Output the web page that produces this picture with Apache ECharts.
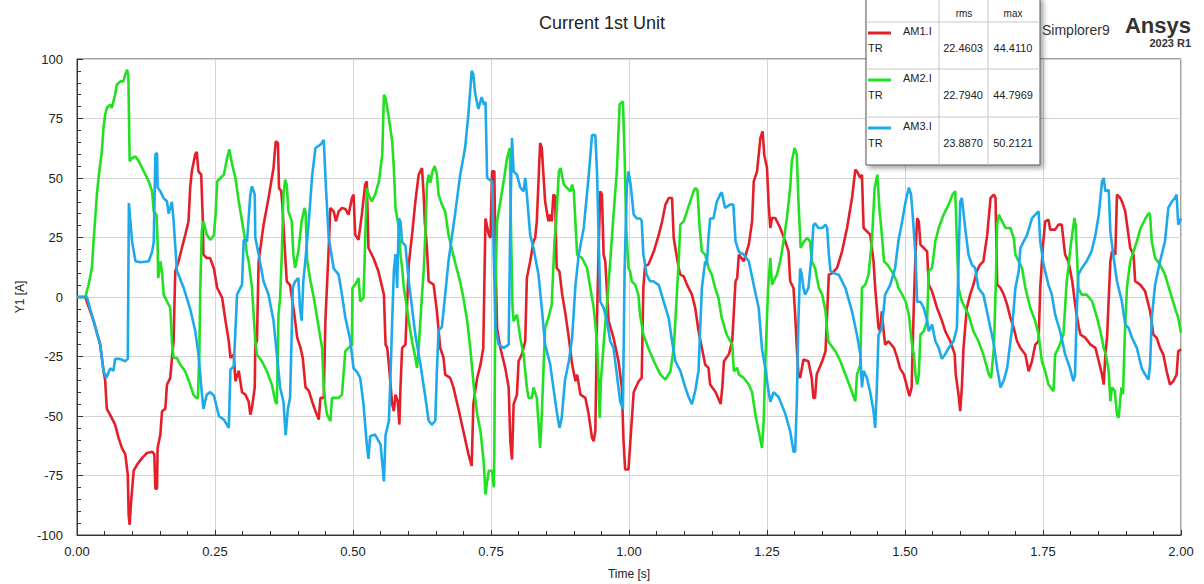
<!DOCTYPE html>
<html>
<head>
<meta charset="utf-8">
<title>Current 1st Unit</title>
<script src="https://cdn.jsdelivr.net/npm/echarts@6/dist/echarts.min.js"></script>
<style>
  html, body { margin: 0; padding: 0; background: #fff; }
  #main { width: 1204px; height: 584px; }
</style>
</head>
<body>
<div id="main"></div>
<script>
// AM1.I (red)
const tRed = [0,0.015,0.030,0.042,0.048,0.051,0.054,0.060,0.069,0.075,0.0815,0.0875,0.092,0.0936,0.0954,0.098,0.1027,0.1087,0.118,0.127,0.136,0.140,0.142,0.145,0.146,0.151,0.154,0.160,0.163,0.169,0.172,0.175,0.178,0.184,0.190,0.196,0.202,0.205,0.208,0.214,0.217,0.220,0.225,0.228,0.229,0.235,0.241,0.248,0.254,0.257,0.263,0.269,0.275,0.278,0.284,0.287,0.293,0.299,0.305,0.311,0.314,0.317,0.322,0.323,0.326,0.329,0.338,0.347,0.356,0.360,0.364,0.366,0.370,0.372,0.376,0.380,0.386,0.393,0.399,0.405,0.409,0.414,0.420,0.426,0.432,0.438,0.441,0.447,0.450,0.456,0.459,0.465,0.469,0.474,0.480,0.486,0.492,0.498,0.501,0.504,0.510,0.516,0.522,0.525,0.528,0.537,0.546,0.556,0.559,0.562,0.565,0.571,0.574,0.577,0.581,0.584,0.586,0.589,0.595,0.601,0.607,0.613,0.619,0.625,0.628,0.630,0.634,0.637,0.646,0.652,0.658,0.664,0.667,0.676,0.682,0.692,0.700,0.709,0.715,0.718,0.725,0.731,0.736,0.740,0.746,0.749,0.752,0.756,0.758,0.761,0.767,0.776,0.782,0.785,0.788,0.791,0.797,0.800,0.806,0.812,0.815,0.821,0.827,0.830,0.833,0.839,0.842,0.848,0.854,0.857,0.860,0.863,0.866,0.869,0.874,0.879,0.885,0.891,0.897,0.903,0.906,0.912,0.921,0.927,0.933,0.936,0.939,0.942,0.945,0.948,0.951,0.954,0.957,0.963,0.972,0.981,0.987,0.990,0.993,0.999,1.005,1.0085,1.0175,1.023,1.026,1.029,1.035,1.045,1.054,1.060,1.066,1.072,1.078,1.081,1.084,1.090,1.093,1.099,1.105,1.114,1.120,1.126,1.132,1.138,1.144,1.147,1.157,1.166,1.169,1.172,1.181,1.187,1.193,1.196,1.199,1.208,1.217,1.223,1.226,1.232,1.238,1.242,1.245,1.250,1.253,1.256,1.259,1.265,1.274,1.283,1.289,1.292,1.298,1.301,1.304,1.307,1.310,1.316,1.325,1.331,1.334,1.337,1.340,1.350,1.356,1.362,1.368,1.377,1.386,1.395,1.404,1.410,1.413,1.419,1.422,1.425,1.431,1.437,1.443,1.446,1.452,1.455,1.458,1.462,1.464,1.470,1.480,1.486,1.491,1.498,1.504,1.508,1.512,1.516,1.519,1.522,1.525,1.528,1.534,1.540,1.543,1.549,1.558,1.567,1.573,1.582,1.590,1.592,1.597,1.600,1.603,1.606,1.612,1.618,1.624,1.630,1.636,1.642,1.649,1.655,1.661,1.664,1.667,1.673,1.679,1.685,1.691,1.697,1.703,1.709,1.718,1.724,1.730,1.736,1.742,1.745,1.750,1.754,1.760,1.763,1.772,1.778,1.784,1.790,1.796,1.803,1.809,1.815,1.818,1.827,1.836,1.845,1.851,1.857,1.860,1.863,1.866,1.872,1.875,1.881,1.884,1.890,1.893,1.899,1.908,1.914,1.917,1.926,1.935,1.944,1.950,1.956,1.962,1.968,1.974,1.980,1.986,1.992,1.995,2.0];
const vRed = [0,0,-10,-20,-31,-35,-47,-49.5,-53.6,-59,-63.5,-66,-74.6,-91.5,-95.7,-86,-73,-70.5,-67.6,-65.5,-65,-66,-80.5,-80.5,-63.4,-57.8,-48,-47,-36.8,-34,-25.6,-18.6,10.8,15,20.6,26,31.8,45.8,52.8,59.8,61,52.8,51.4,31.8,17.8,16.4,16.4,12,3.8,2.4,-0.4,-10,-18.6,-25.6,-24.2,-35.4,-31,-40,-41,-44,-49.4,-46.5,-38,-20,-18.6,15,30.4,41.6,54.2,65.4,64.7,45.8,44.4,38.8,22,6.6,5,-6,-17.2,-21.4,-25.6,-38,-39.4,-44,-48,-51.5,-42.4,-42.4,-10,20.6,37.4,36,31.8,36,37.4,37,34.6,41.6,43,26.2,24,34.6,47.2,48.6,20.6,16.4,10.8,1,-20,-21.4,-28.4,-45,-48,-41,-43.8,-53.6,-38,-21.4,-20,13.6,26.2,40.2,51.4,54.2,43,31.8,20.6,6.6,5.2,-6,-21.4,-25.6,-32.6,-34,-38,-48,-56.4,-66,-71,-45,-34,-28.4,-21.4,33,26.2,24.8,52.8,52.8,17.8,-13,-21.4,-30,-38,-60.6,-68.3,-45,-41,-27,-24,-18.6,8,15,23.4,24.8,31.8,64.7,62.6,40.2,31.8,34.6,31.8,43,42.4,12.2,10.8,1,-7.4,-17.2,-28.4,-35.4,-32.6,-41,-42.4,-49.4,-59.2,-60.6,-56.4,-10,20.6,44.4,43,17.8,15,-10,-17.2,-27,-38,-60,-72.5,-72.5,-52,-40,-35.4,-34,3.8,13,13.6,19.2,26.2,31.8,38.8,41.6,41.6,24.8,20.6,12.2,9.4,8.7,5.2,1,-4.6,-14.4,-21.4,-28.4,-29.8,-36.8,-40,-45,-38,-27,-24,-18.6,6.6,8,17.8,15,22,31.8,48.6,52.8,66.8,69.6,59.8,54.2,38.8,29,33.2,33.2,29,23.4,19.2,6.6,3.8,-7.4,-21.4,-32.6,-34,-26.3,-27,-34,-42.4,-42.4,-32.6,-27,-22.8,9.4,10,12.2,19.2,29,41.6,53.5,52.8,50,51.4,29,27.6,26.2,15,3.8,-13,-14.4,-6,-15.8,-20,-18.6,-21.4,-25.6,-30,-32.6,-38,-41.7,-38,-3.2,17.8,33.2,31.8,22,20.6,19.2,5.2,2.4,-4.6,-10,-14.4,-18.6,-24,-32.6,-41,-48,-38,-21.4,-4.6,1,5.2,10.8,13.6,15,26.2,41.6,43,41.6,5.2,3.8,1,-3.2,-8.8,-13,-18.6,-21.4,-24.2,-31.2,-27,-20,-18.6,3.8,22,31.8,32.5,28.3,28.3,30.4,30.4,17.8,15,6.6,-4.6,-13,-15.8,-17.2,-20,-21.4,-27,-32.6,-36.8,-24.2,-17.2,15,19.2,17.8,43,41.6,40.2,36,20.6,17.8,6.6,5.2,2.4,-6,-15.8,-17.2,-21.4,-24.2,-31.2,-36.8,-35.4,-32.6,-22.8,-22];

// AM2.I (green)
const tGreen = [0,0.015,0.021,0.027,0.030,0.033,0.036,0.039,0.045,0.048,0.051,0.054,0.060,0.063,0.069,0.072,0.0785,0.084,0.0875,0.0906,0.093,0.0954,0.0996,0.106,0.112,0.118,0.124,0.130,0.136,0.139,0.144,0.146,0.147,0.150,0.151,0.154,0.157,0.163,0.169,0.172,0.175,0.181,0.187,0.196,0.205,0.211,0.216,0.219,0.2216,0.2234,0.226,0.229,0.235,0.242,0.248,0.251,0.254,0.260,0.266,0.272,0.276,0.281,0.287,0.293,0.299,0.305,0.308,0.311,0.317,0.320,0.323,0.326,0.335,0.344,0.353,0.359,0.362,0.365,0.368,0.371,0.374,0.377,0.380,0.383,0.389,0.392,0.395,0.401,0.407,0.412,0.414,0.417,0.423,0.429,0.435,0.441,0.444,0.447,0.450,0.453,0.459,0.462,0.468,0.474,0.480,0.486,0.492,0.498,0.499,0.504,0.510,0.513,0.519,0.522,0.525,0.528,0.534,0.540,0.547,0.553,0.556,0.559,0.565,0.571,0.574,0.577,0.583,0.586,0.589,0.592,0.595,0.601,0.607,0.613,0.616,0.619,0.625,0.628,0.631,0.634,0.637,0.640,0.644,0.648,0.652,0.655,0.661,0.667,0.673,0.680,0.686,0.694,0.700,0.707,0.713,0.719,0.725,0.731,0.737,0.740,0.743,0.746,0.752,0.755,0.756,0.758,0.761,0.767,0.773,0.779,0.784,0.786,0.789,0.791,0.797,0.803,0.809,0.815,0.818,0.824,0.827,0.833,0.839,0.842,0.848,0.854,0.860,0.865,0.868,0.873,0.876,0.882,0.888,0.894,0.897,0.900,0.906,0.915,0.924,0.930,0.936,0.942,0.945,0.947,0.949,0.954,0.960,0.966,0.972,0.978,0.983,0.989,0.992,0.995,0.999,1.002,1.005,1.011,1.017,1.020,1.026,1.035,1.045,1.057,1.066,1.075,1.081,1.084,1.090,1.093,1.099,1.105,1.111,1.117,1.120,1.124,1.128,1.132,1.138,1.144,1.150,1.156,1.162,1.168,1.177,1.187,1.190,1.196,1.199,1.208,1.217,1.223,1.229,1.235,1.241,1.244,1.247,1.252,1.256,1.259,1.262,1.268,1.274,1.280,1.286,1.292,1.295,1.300,1.304,1.307,1.311,1.317,1.323,1.328,1.331,1.337,1.344,1.350,1.356,1.361,1.365,1.374,1.383,1.392,1.401,1.410,1.413,1.419,1.422,1.428,1.434,1.440,1.445,1.450,1.454,1.457,1.462,1.468,1.476,1.485,1.488,1.495,1.501,1.507,1.512,1.516,1.519,1.522,1.525,1.528,1.534,1.540,1.543,1.549,1.555,1.561,1.570,1.579,1.586,1.591,1.594,1.597,1.603,1.609,1.615,1.624,1.633,1.642,1.652,1.656,1.661,1.664,1.667,1.670,1.676,1.682,1.691,1.697,1.700,1.706,1.712,1.718,1.727,1.736,1.742,1.748,1.754,1.760,1.769,1.772,1.778,1.787,1.793,1.796,1.799,1.802,1.807,1.809,1.811,1.814,1.820,1.829,1.839,1.848,1.854,1.860,1.864,1.869,1.872,1.875,1.880,1.884,1.887,1.892,1.895,1.898,1.902,1.908,1.914,1.920,1.927,1.936,1.942,1.944,1.947,1.953,1.962,1.971,1.980,1.989,1.995,2.0];
const vGreen = [0,0,5.2,12.2,23.4,33.2,43,50,61.2,71,76.6,79.4,80.8,79.4,85,89.2,90.6,90.6,93.4,95.5,93.4,57,58.4,59,57,54.2,51.4,48.6,44.4,36,34.6,23.4,8,12.2,15,10.8,1,-1.8,-4.6,-18.6,-25.6,-25.6,-28.4,-31.2,-36.8,-41,-42.4,-42.4,-24.2,3.8,27.6,31.8,26.2,24,26,34.6,48.6,50,51.4,58.4,62,55.6,50,40.2,31.8,23.4,17.8,15,3.8,-7.4,-18.6,-24.2,-27,-31.2,-36.8,-43.8,-45,-7.4,-0.4,17.8,43,49.3,47.2,36,31.8,17.8,12.2,19.2,31.8,37.4,36,15,6.6,-0.4,-8.8,-17.2,-21.4,-38,-45,-49.4,-52.2,-42.4,-42.4,-42.4,-41,-22.8,-21.4,-20,3.8,5.2,8,-1.8,-0.4,23.4,45.8,43,40.2,43,48.6,59.8,85,83.6,75.2,65.4,54.2,37.4,29,17.8,12.2,3.8,-0.4,-10.2,-18.6,-25.6,-29.8,-21.4,1,10.8,26.2,47.2,51.4,48,52.8,55,51.4,43,38.8,36,26.2,19.2,13.6,6.6,-0.4,-10.2,-22.8,-38,-49.4,-56.4,-70,-83,-77.5,-73,-73,-80,-66,3.8,31.8,40.2,48.6,58.4,62.6,31.8,-4.6,-10.2,-7.4,-17.2,-24.2,-38,-42.4,-42.4,-38,-42.4,-63.4,-49.4,-13,-8.8,-3.2,23.4,31.8,52.8,54.2,47.2,45.8,44.4,47.2,44.4,17.8,16.4,12.2,3.8,-4.6,-18.6,-38,-50.8,-35.4,-20,-3.2,15,34.6,52.8,81,82.2,59.8,29,12.2,10.8,6.6,5.2,1,-7.4,-15.8,-21.4,-27,-32.6,-34.7,-31.2,-21.4,-10.2,15,30.4,31.8,36,40.2,44.4,45.8,45,29,19.2,17.8,12.2,9.4,3.8,-0.4,-8.8,-15.8,-20,-31.2,-29.8,-32.6,-34,-36.8,-40,-49.4,-56.4,-63.4,-52,-27,3.8,16.4,5.2,6.6,9.4,15,23.4,33.2,45.8,57,62.6,59.8,40.2,20.6,23.4,24.8,23.4,15,12.2,3.8,1,-6,-18.6,-20,-22.8,-27,-32.6,-38,-43.8,-32.6,-28.4,3.8,5.2,9.4,23.4,45.8,51.4,36,29,15,13.6,10.8,6.6,3.8,1,-1.8,-7.4,-18.6,-24.2,-32.6,-36.8,-32.6,-15.8,-14.4,-10.2,10.8,12.2,23.4,29,34.6,38.8,43,44.4,23.4,3.8,-1.8,-4.6,-7.4,-14.4,-18.6,-24.2,-32.6,-34,-21.4,1,30.4,34.6,31.8,29,29,24.8,17.8,15,12.2,3.8,-4.6,-10.2,-15.8,-27,-31.2,-36.8,-39.6,-24.2,-21.4,-15.8,6.6,12.2,19.2,24.8,33.2,30.4,20.6,3.8,1,1,-1.8,-8.8,-14.4,-21.4,-24.2,-31.2,-43.8,-38,-39.4,-49.4,-50.8,-38,-40.8,-17.2,3.8,15,19.2,23.4,29,33.2,35.3,34.6,23.4,16.4,13.6,9.4,2.4,-4.6,-8.8,-15];

// AM3.I (blue)
const tBlue = [0,0.018,0.030,0.042,0.048,0.053,0.060,0.066,0.069,0.078,0.087,0.092,0.094,0.100,0.106,0.115,0.130,0.136,0.139,0.142,0.145,0.146,0.151,0.157,0.163,0.166,0.172,0.175,0.181,0.193,0.205,0.214,0.220,0.226,0.229,0.235,0.2415,0.248,0.257,0.266,0.275,0.278,0.284,0.290,0.299,0.302,0.308,0.314,0.317,0.322,0.323,0.329,0.338,0.347,0.356,0.362,0.368,0.374,0.378,0.382,0.386,0.391,0.395,0.401,0.404,0.407,0.410,0.414,0.420,0.426,0.432,0.441,0.447,0.451,0.456,0.465,0.474,0.480,0.486,0.495,0.501,0.507,0.513,0.519,0.525,0.528,0.531,0.540,0.550,0.556,0.559,0.565,0.568,0.571,0.574,0.577,0.580,0.583,0.586,0.589,0.595,0.601,0.607,0.613,0.622,0.631,0.637,0.643,0.649,0.652,0.655,0.661,0.667,0.673,0.679,0.685,0.694,0.703,0.709,0.715,0.718,0.721,0.727,0.733,0.737,0.740,0.743,0.752,0.758,0.764,0.773,0.782,0.785,0.788,0.791,0.797,0.803,0.809,0.812,0.815,0.821,0.827,0.836,0.842,0.848,0.857,0.863,0.869,0.874,0.878,0.884,0.891,0.897,0.903,0.909,0.918,0.927,0.933,0.939,0.942,0.945,0.948,0.954,0.960,0.966,0.972,0.978,0.984,0.989,0.992,0.996,0.999,1.003,1.0085,1.014,1.020,1.023,1.026,1.032,1.038,1.044,1.054,1.063,1.072,1.078,1.084,1.093,1.102,1.108,1.114,1.120,1.126,1.129,1.132,1.138,1.141,1.144,1.147,1.153,1.159,1.165,1.168,1.174,1.183,1.189,1.193,1.199,1.208,1.217,1.226,1.235,1.241,1.247,1.253,1.256,1.262,1.271,1.283,1.292,1.298,1.301,1.304,1.307,1.310,1.313,1.316,1.319,1.325,1.331,1.334,1.337,1.343,1.350,1.356,1.359,1.362,1.365,1.371,1.380,1.392,1.404,1.413,1.419,1.422,1.425,1.431,1.437,1.443,1.446,1.449,1.452,1.458,1.464,1.473,1.482,1.488,1.495,1.501,1.507,1.511,1.513,1.519,1.522,1.528,1.534,1.540,1.543,1.549,1.555,1.561,1.567,1.573,1.579,1.588,1.594,1.597,1.600,1.603,1.609,1.615,1.621,1.627,1.633,1.642,1.652,1.661,1.667,1.673,1.679,1.685,1.694,1.700,1.706,1.709,1.715,1.721,1.730,1.739,1.742,1.745,1.751,1.760,1.766,1.772,1.781,1.790,1.799,1.805,1.808,1.811,1.814,1.820,1.829,1.838,1.845,1.851,1.857,1.860,1.863,1.869,1.872,1.878,1.884,1.893,1.899,1.905,1.911,1.920,1.929,1.935,1.941,1.944,1.947,1.953,1.962,1.971,1.977,1.983,1.989,1.992,1.995,2.0];
const vBlue = [0,0,-10,-20,-31,-34,-30,-31,-26,-26,-27,-26,39.5,23,15,14.6,15,19,23,60,60.5,46,44.4,41.5,40.2,35,40,32,11,4,-5,-14,-24,-40,-47,-41,-40,-41.4,-50,-51.5,-55,-30.5,-29,1,5.2,24,23.4,43,46.5,43,25,18,6.5,1,-10,-24,-38,-44,-58,-47,-42.4,4,6.5,8,-5,-10,6.6,16,32,51,62.6,64,66,46,25,12,9.4,1,-8.5,-18,-30,-31.4,-34,-45,-62,-68,-58.5,-57.8,-62,-77.5,-58,-52,-33,-10,11,18,3.8,33,31.8,23,21.6,6.6,-4.6,-16,-28,-42,-52,-53.6,-52,-31,-14,-12.6,1,15,25,35,51,62.6,76.6,95,93.6,86,79,84,80.8,82,50,48.6,-13,-20,-21.4,-20,32,66.8,52.8,51.4,46,44.4,50,43,26,20.6,9.4,-4.6,-20,-28,-38,-48,-55,-51,-35,-27,-17,5,18,29,51,68,68,52.8,25,-2,-4.6,-10,-18.6,-21.4,-32.6,-44,-47,11,46,52.8,47.2,34.6,33,33,32,18,9.4,6.6,6.6,5,-2,-9,-18.6,-27,-31,-38,-42,-45,-39.4,-31,-13,3.8,15,13.6,25,33,33,40,43,44,37.4,38.8,38.8,23.4,19,17.8,15,5,-4.6,-22,-30,-40,-44,-40,-42,-49,-56.4,-65,-65,-44,-9,12,9.4,3.8,1,3.8,18,30,31,29,29,30.4,29,18,11,10,9.4,3.8,-6,-16,-24,-38,-31,-34,-40,-48,-55,-38,-16,-13,1,5,12,23.4,32,40,46,43,37.4,17.8,-2,-2,-4.6,-10,-14.4,-11.6,-18.6,-21.4,-26,-24,-21.4,-18.6,-13,15,40,41.6,29,17.8,13.6,12.2,3.8,1,-10,-20,-30,-38,-35,-30,-13,3.8,10.8,20.6,23.4,26,33,35.3,36,23.4,13.6,5,1,-7.4,-14.4,-24,-30,-35.4,-32.6,-7.4,9.4,12,15,19.2,26,34.6,48.6,50,44.4,45,27.6,16.4,6.6,-2,-11.6,-13,-17,-21.4,-30,-32.6,-34.7,-28.4,-8.8,5,15,23.4,37.4,40,41.6,43,30.4,33];

const seriesNames = ['AM1.I', 'AM2.I', 'AM3.I'];
const seriesColors = ['#e3202a', '#22e022', '#1eaaea'];
const rmsValues = ['22.4603', '22.7940', '23.8870'];
const maxValues = ['44.4110', '44.7969', '50.2121'];
const yTicks = [-100, 100, 25];
const xTicks = [0, 2, 0.25];

function pairs(t, v) {
  return t.map((x, i) => [x, v[i]]);
}

const FONT = '"Liberation Sans", Arial, sans-serif';

var myChart = echarts.init(document.getElementById('main'), null, { renderer: 'svg' });

// legend table drawn in the top right, like the Ansys report
let legendEls = [];
legendEls.push({
  type: 'rect', z: 100,
  shape: { x: 866, y: -3, width: 174, height: 168 },
  style: { fill: '#fff', stroke: '#555', lineWidth: 1, shadowBlur: 5, shadowOffsetX: 3, shadowOffsetY: 3, shadowColor: 'rgba(0,0,0,0.35)' }
});
[939, 988].forEach(x => legendEls.push({
  type: 'line', z: 101, shape: { x1: x, y1: 0, x2: x, y2: 165 },
  style: { stroke: '#c8c8c8', lineWidth: 1 }
}));
[22, 69, 117].forEach(y => legendEls.push({
  type: 'line', z: 101, shape: { x1: 866, y1: y, x2: 1040, y2: y },
  style: { stroke: '#c8c8c8', lineWidth: 1 }
}));
function txt(x, y, text, size, align, extra) {
  return Object.assign({
    type: 'text', z: 102, x: x, y: y,
    style: Object.assign({
      text: text, fill: '#222', font: size + 'px ' + FONT,
      textAlign: align, textVerticalAlign: 'middle', align: align, verticalAlign: 'middle'
    }, extra || {})
  });
}
legendEls.push(txt(964, 13, 'rms', 10, 'center'));
legendEls.push(txt(1013, 13, 'max', 10, 'center'));
for (let i = 0; i < 3; i++) {
  const top = [22, 69, 117][i];
  legendEls.push({
    type: 'line', z: 102, shape: { x1: 868, y1: top + 11, x2: 891, y2: top + 11 },
    style: { stroke: seriesColors[i], lineWidth: 3 }
  });
  legendEls.push(txt(903, top + 9, seriesNames[i], 11, 'left'));
  legendEls.push(txt(868, top + 26, 'TR', 11, 'left'));
  legendEls.push(txt(963, top + 26, rmsValues[i], 11, 'center'));
  legendEls.push(txt(1013, top + 26, maxValues[i], 11, 'center'));
}
legendEls.push(txt(1042, 30, 'Simplorer9', 14, 'left', { fill: '#333' }));
legendEls.push(txt(1191, 25, 'Ansys', 22, 'right', { fill: '#333', font: 'bold 22px ' + FONT }));
legendEls.push(txt(1191, 43, '2023 R1', 11, 'right', { fill: '#333', font: 'bold 11px ' + FONT }));

const axisText = { color: '#222', fontSize: 13, fontFamily: FONT };

var option = {
  animation: false,
  backgroundColor: '#fff',
  title: {
    text: 'Current 1st Unit',
    left: 'center',
    top: 9,
    textStyle: { fontSize: 18, fontWeight: 'normal', color: '#222', fontFamily: FONT }
  },
  grid: {
    left: 77, right: 23, top: 59, bottom: 49,
    show: true, borderColor: '#444', borderWidth: 1,
    outerBoundsMode: 'none'
  },
  xAxis: {
    type: 'value',
    min: xTicks[0], max: xTicks[1], interval: xTicks[2],
    name: 'Time [s]',
    nameLocation: 'middle',
    nameGap: 33,
    nameTextStyle: { color: '#222', fontSize: 12, fontFamily: FONT },
    axisLine: { show: true, onZero: false, lineStyle: { color: '#333' } },
    axisTick: { show: true, inside: true, length: 5, lineStyle: { color: '#333' } },
    minorTick: { show: true, splitNumber: 5, length: 4, lineStyle: { color: '#333' } },
    splitLine: { show: true, lineStyle: { color: '#d4d4d4' } },
    axisLabel: Object.assign({ margin: 10, formatter: v => v.toFixed(2) }, axisText)
  },
  yAxis: {
    type: 'value',
    min: yTicks[0], max: yTicks[1], interval: yTicks[2],
    name: 'Y1 [A]',
    nameLocation: 'middle',
    nameGap: 40,
    nameTextStyle: { color: '#222', fontSize: 12, fontFamily: FONT },
    axisLine: { show: true, onZero: false, lineStyle: { color: '#333' } },
    axisTick: { show: true, inside: true, length: 6, lineStyle: { color: '#333' } },
    minorTick: { show: true, splitNumber: 5, length: 4, lineStyle: { color: '#333' } },
    splitLine: { show: true, lineStyle: { color: '#d4d4d4' } },
    axisLabel: Object.assign({ margin: 14 }, axisText)
  },
  series: [
    { name: seriesNames[0], type: 'line', data: pairs(tRed, vRed) },
    { name: seriesNames[1], type: 'line', data: pairs(tGreen, vGreen) },
    { name: seriesNames[2], type: 'line', data: pairs(tBlue, vBlue) }
  ].map((s, i) => Object.assign(s, {
    showSymbol: false,
    symbol: 'none',
    lineStyle: { width: 2.6, color: seriesColors[i] },
    itemStyle: { color: seriesColors[i] }
  })),
  graphic: legendEls
};

myChart.setOption(option);
</script>
</body>
</html>
